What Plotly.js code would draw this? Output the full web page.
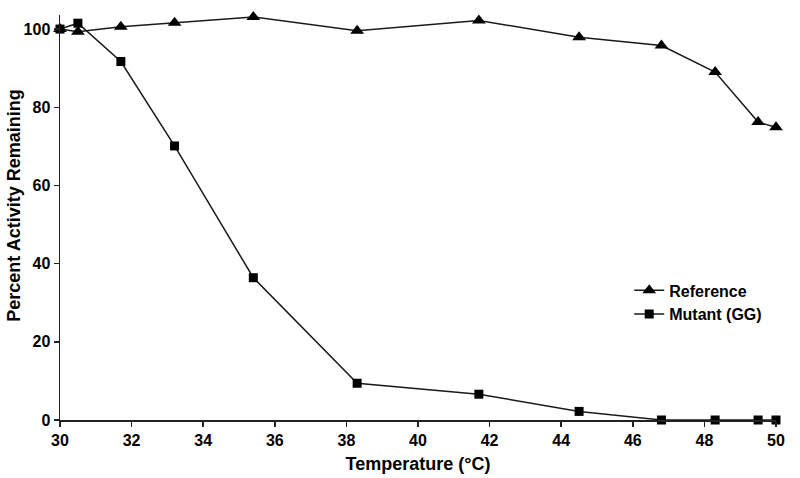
<!DOCTYPE html>
<html>
<head>
<meta charset="utf-8">
<script src="https://cdn.plot.ly/plotly-3.0.1.min.js"></script>
<style>html,body{margin:0;padding:0;background:#fff;}#chart{width:800px;height:478px;}</style>
</head>
<body>
<div id="chart"></div>
<script>
var temperature = [30, 30.5, 31.7, 33.2, 35.4, 38.3, 41.7, 44.5, 46.8, 48.3, 49.5, 50];
var referenceActivity = [100, 99.3, 100.6, 101.6, 103.1, 99.6, 102.2, 97.9, 95.8, 89.0, 76.2, 74.9];
var mutantActivity = [100, 101.5, 91.7, 70.1, 36.4, 9.4, 6.6, 2.2, 0, 0, 0, 0];
var seriesNames = ["Reference", "Mutant (GG)"];
var xTicks = [30, 32, 34, 36, 38, 40, 42, 44, 46, 48, 50];
var yTicks = [0, 20, 40, 60, 80, 100];

var lineColor = "#1a1a1a";
var traces = [
  {x: temperature, y: referenceActivity, name: seriesNames[0], type: "scatter", mode: "lines+markers",
   line: {color: lineColor, width: 1.5}, marker: {symbol: "triangle-up", size: 12, color: "#000"}, cliponaxis: false},
  {x: temperature, y: mutantActivity, name: seriesNames[1], type: "scatter", mode: "lines+markers",
   line: {color: lineColor, width: 1.5}, marker: {symbol: "square", size: 9, color: "#000"}, cliponaxis: false}
];
var fam = "Liberation Sans, Arial, sans-serif";
var layout = {
  width: 800, height: 478,
  margin: {l: 59.5, r: 23.5, t: 15, b: 58},
  paper_bgcolor: "#fff", plot_bgcolor: "#fff",
  showlegend: true,
  legend: {x: 0.795, y: 0.362, xanchor: "left", yanchor: "top", bgcolor: "rgba(0,0,0,0)",
    font: {family: fam, size: 16, color: "#000", weight: "bold"}, tracegroupgap: 0},
  xaxis: {
    range: [30, 50], tickvals: xTicks, ticktext: xTicks.map(String),
    showgrid: false, zeroline: false, showline: true, linecolor: "#222", linewidth: 1.5,
    ticks: "outside", ticklen: 5, tickwidth: 1.5, tickcolor: "#222",
    tickfont: {family: fam, size: 16, color: "#000", weight: "bold"},
    title: {text: "Temperature (°C)", font: {family: fam, size: 18, color: "#000", weight: "bold"}, standoff: 9}
  },
  yaxis: {
    range: [0, 103.6], tickvals: yTicks, ticktext: yTicks.map(String),
    showgrid: false, zeroline: false, showline: true, linecolor: "#222", linewidth: 1.5,
    ticks: "outside", ticklen: 5, tickwidth: 1.5, tickcolor: "#222",
    tickfont: {family: fam, size: 16, color: "#000", weight: "bold"}
  },
  annotations: [{
    text: "Percent Activity Remaining", xref: "paper", yref: "paper",
    x: -0.0635, y: 0.528, xanchor: "center", yanchor: "middle", textangle: -90, showarrow: false,
    font: {family: fam, size: 18, color: "#000", weight: "bold"}
  }]
};
Plotly.newPlot("chart", traces, layout, {displayModeBar: false, staticPlot: true});
</script>
</body>
</html>
